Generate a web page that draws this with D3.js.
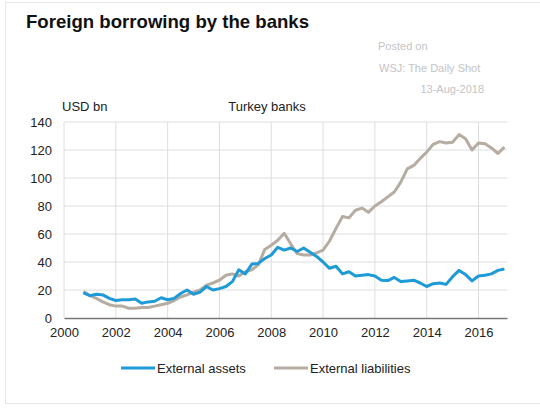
<!DOCTYPE html>
<html lang="en">
<head>
    <meta charset="UTF-8">
    <title>Foreign borrowing by the banks</title>
    <script src="https://d3js.org/d3.v7.min.js"></script>
    <style>
        body {
            margin: 0;
            padding: 0;
            background: white;
            font-family: "Liberation Sans", Arial, sans-serif;
        }
        svg {
            display: block;
        }
    </style>
</head>
<body>
    <svg id="chart" width="540" height="409"></svg>

    <script>
        // quarterly observations, Q4 2000 .. Q1 2017
        const startYear = 2000.75;
        const externalAssets = [
            18, 16, 17, 16.5, 14, 12.5, 13, 13, 13.5, 10.5,
            11.5, 12, 14.5, 13, 14, 17.5, 20, 17, 18.5, 22.5,
            20, 21, 22.5, 26, 34.5, 31.5, 38.5, 39, 42.5, 45,
            50.5, 48.5, 50, 47.5, 50, 47, 44, 40, 35.5, 37,
            31.5, 33, 30, 30.5, 31, 30, 27, 26.7, 29, 26,
            26.5, 27, 25, 22.5, 24.5, 25, 24, 29.5, 34, 31,
            26.5, 30, 30.5, 31.5, 34, 35
        ];
        const externalLiabilities = [
            19, 16, 14, 11.5, 9.5, 8.5, 8.5, 7, 7, 7.5,
            7.5, 8.5, 9.5, 10.5, 12.5, 15, 16.5, 18.5, 20, 23.5,
            25, 27, 30.5, 31.5, 30, 33, 34.5, 38, 49, 52,
            55.5, 60.5, 53, 46, 45, 45, 46.5, 48.5, 55, 64,
            72.5, 71.5, 77, 78.5, 75.5, 80, 83, 86.5, 90, 97,
            106.5, 109, 114, 118.5, 124, 126, 125, 125.5, 131, 128,
            120, 125, 124.5, 121.5, 117.5, 122
        ];
        const xTicks = [2000, 2002, 2004, 2006, 2008, 2010, 2012, 2014, 2016];
        const yTicks = [0, 20, 40, 60, 80, 100, 120, 140];
        const seriesNames = ["External assets", "External liabilities"];
        const seriesColors = ["#1e9ad6", "#b5aca2"];

        const svg = d3.select("#chart");

        // outer frame
        svg.append("rect")
            .attr("x", 5.5).attr("y", 2.5)
            .attr("width", 540).attr("height", 401)
            .attr("fill", "none")
            .attr("stroke", "#e6e6e6");

        const x = d3.scaleLinear().domain([2000, 2017.1]).range([64, 507]);
        const y = d3.scaleLinear().domain([0, 140]).range([318, 122]);

        // grid
        svg.append("g")
            .selectAll("line")
            .data(yTicks.filter(d => d > 0))
            .join("line")
            .attr("x1", x(2000)).attr("x2", x(2017.1))
            .attr("y1", d => y(d)).attr("y2", d => y(d))
            .attr("stroke", "#dedede");

        svg.append("g")
            .selectAll("line")
            .data(xTicks)
            .join("line")
            .attr("x1", d => x(d)).attr("x2", d => x(d))
            .attr("y1", y(0)).attr("y2", y(140))
            .attr("stroke", "#dedede");

        // axes
        const yAxis = d3.axisLeft(y).tickValues(yTicks).tickSize(0).tickPadding(12);
        const yG = svg.append("g").attr("transform", `translate(${x(2000)},0)`).call(yAxis);
        yG.select(".domain").remove();
        yG.selectAll("text")
            .attr("font-family", "Liberation Sans, Arial, sans-serif")
            .attr("font-size", 13).attr("fill", "#222");

        const xAxis = d3.axisBottom(x).tickValues(xTicks).tickFormat(d3.format("d")).tickSize(0).tickPadding(10);
        const xG = svg.append("g").attr("transform", `translate(0,${y(0)})`).call(xAxis);
        xG.select(".domain").attr("stroke", "#777").attr("stroke-width", 1.5);
        xG.selectAll("text")
            .attr("font-family", "Liberation Sans, Arial, sans-serif")
            .attr("font-size", 13).attr("fill", "#222");

        // lines
        const line = d3.line()
            .x((d, i) => x(startYear + i * 0.25))
            .y(d => y(d));

        [externalLiabilities, externalAssets].forEach((values, k) => {
            svg.append("path")
                .datum(values)
                .attr("fill", "none")
                .attr("stroke", k === 0 ? seriesColors[1] : seriesColors[0])
                .attr("stroke-width", 3)
                .attr("stroke-linejoin", "round")
                .attr("d", line);
        });

        // titles
        svg.append("text")
            .attr("x", 26).attr("y", 28)
            .attr("font-size", 18.6).attr("font-weight", "bold")
            .attr("fill", "#111")
            .text("Foreign borrowing by the banks");

        const note = svg.append("g")
            .attr("font-size", 11).attr("fill", "#c4c4c4");
        note.append("text").attr("x", 378).attr("y", 50).text("Posted on");
        note.append("text").attr("x", 379).attr("y", 72).text("WSJ: The Daily Shot");
        note.append("text").attr("x", 484).attr("y", 93).attr("text-anchor", "end").text("13-Aug-2018");

        svg.append("text")
            .attr("x", 62).attr("y", 111)
            .attr("font-size", 13).attr("fill", "#222")
            .text("USD bn");
        svg.append("text")
            .attr("x", 267).attr("y", 111)
            .attr("text-anchor", "middle")
            .attr("font-size", 13).attr("fill", "#222")
            .text("Turkey banks");

        // legend
        const legendX = [121, 274];
        const legend = svg.append("g")
            .selectAll("g")
            .data(seriesNames)
            .join("g")
            .attr("transform", (d, i) => `translate(${legendX[i]},368)`);
        legend.append("line")
            .attr("x1", 0).attr("x2", 34)
            .attr("stroke", (d, i) => seriesColors[i])
            .attr("stroke-width", 3);
        legend.append("text")
            .attr("x", 36).attr("y", 5)
            .attr("font-size", 13).attr("fill", "#222")
            .text(d => d);
    </script>
</body>
</html>
